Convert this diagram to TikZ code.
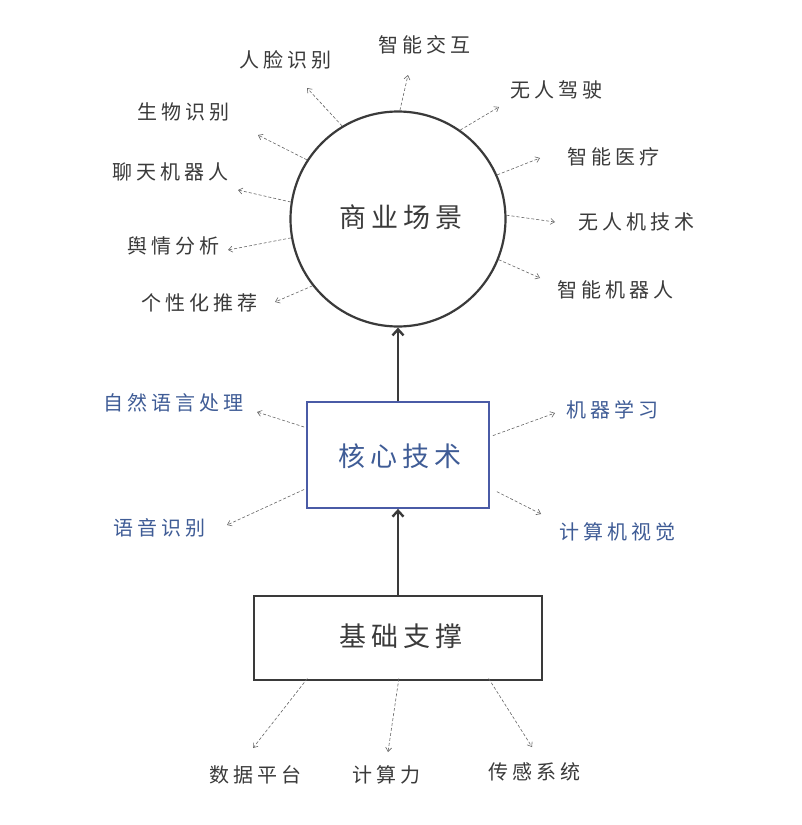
\documentclass[tikz,border=0pt]{standalone}
\usepackage{fontspec}
\usetikzlibrary{arrows.meta,calc}
\newfontfamily\cjk{Noto Sans CJK SC}[LetterSpace=20]
\newfontfamily\cjkbig{Noto Sans CJK SC}[LetterSpace=18]
\definecolor{ink}{HTML}{3A3A3A}
\definecolor{blueink}{HTML}{3F5C96}
\definecolor{bluebox}{HTML}{4A5BA6}
\definecolor{dash}{HTML}{666666}
\tikzset{
  lbl/.style={font=\cjk\fontsize{20}{20}\selectfont, text=ink, inner sep=0pt},
  blbl/.style={lbl, text=blueink},
  big/.style={font=\cjkbig\fontsize{27}{27}\selectfont, inner sep=0pt},
  darr/.style={draw=dash, line width=0.6pt, dash pattern=on 3pt off 2pt, -{Straight Barb[length=4pt,width=6pt]}},
  thick arr/.style={draw=ink, line width=2.4pt, -{Straight Barb[length=6pt,width=11pt]}}
}
\begin{document}
\begin{tikzpicture}[x=1pt,y=-1pt]
\useasboundingbox[fill=white] (0,0) rectangle (802,825);
% main shapes
\node[circle, draw=ink, line width=2.2pt, minimum size=215pt, inner sep=0pt] (c) at (398,219) {};
\node[big, text=ink] (ct) at (401,217) {商业场景};
\node[draw=bluebox, line width=1.8pt, minimum width=182pt, minimum height=106pt, inner sep=0pt] (b) at (398,455) {};
\node[big, text=blueink] (bt) at (400,456) {核心技术};
\node[draw=ink, line width=2pt, minimum width=288pt, minimum height=84pt, inner sep=0pt] (k) at (398,637.5) {};
\node[big, text=ink] (kt) at (401,636) {基础支撑};
% thick arrows
\draw[thick arr] (b.north) -- (c.south);
\draw[thick arr] (k.north) -- (b.south);
% business labels
\node[lbl] (l1) at (424,45) {智能交互};
\node[lbl] (l2) at (285,60) {人脸识别};
\node[lbl] (l3) at (183,112) {生物识别};
\node[lbl] (l4) at (170,172) {聊天机器人};
\node[lbl] (l5) at (173,246) {舆情分析};
\node[lbl] (l6) at (199,303) {个性化推荐};
\node[lbl] (r1) at (556,90) {无人驾驶};
\node[lbl] (r2) at (613,157) {智能医疗};
\node[lbl] (r3) at (636,222) {无人机技术};
\node[lbl] (r4) at (615,290) {智能机器人};
\coordinate (t1) at (408,75);
\coordinate (t2) at (307,88);
\coordinate (t3) at (258,135);
\coordinate (t4) at (238,190);
\coordinate (t5) at (228,250);
\coordinate (t6) at (275,302);
\coordinate (s1) at (499,107);
\coordinate (s2) at (540,158);
\coordinate (s3) at (555,222);
\coordinate (s4) at (540,278);
\draw[darr] (c.89) -- (t1);
\draw[darr] (c.121) -- (t2);
\draw[darr] (c.147) -- (t3);
\draw[darr] (c.171) -- (t4);
\draw[darr] (c.190) -- (t5);
\draw[darr] (c.218) -- (t6);
\draw[darr] (c.55) -- (s1);
\draw[darr] (c.24) -- (s2);
\draw[darr] (c.2) -- (s3);
\draw[darr] (c.-22) -- (s4);
% core tech labels
\node[blbl] (n1) at (173,403) {自然语言处理};
\node[blbl] (n2) at (159,528) {语音识别};
\node[blbl] (n3) at (612,410) {机器学习};
\node[blbl] (n4) at (617,532) {计算机视觉};
\coordinate (u1) at (257,412);
\coordinate (u2) at (227,525);
\coordinate (u3) at (555,413);
\coordinate (u4) at (541,514);
\draw[darr] ([xshift=-2pt]$(b.north west)!0.24!(b.south west)$) -- (u1);
\draw[darr] ([xshift=-2pt]$(b.north west)!0.82!(b.south west)$) -- (u2);
\draw[darr] ([xshift=3pt]$(b.north east)!0.32!(b.south east)$) -- (u3);
\draw[darr] ([xshift=7pt]$(b.north east)!0.84!(b.south east)$) -- (u4);
% base labels
\node[lbl] (m1) at (255,775) {数据平台};
\node[lbl] (m2) at (386,775) {计算力};
\node[lbl] (m3) at (534,772) {传感系统};
\coordinate (v1) at (253,748);
\coordinate (v2) at (388,752);
\coordinate (v3) at (532,747);
\draw[darr] ([yshift=2pt]$(k.south west)!0.1875!(k.south east)$) -- (v1);
\draw[darr] ([yshift=2pt]$(k.south west)!0.503!(k.south east)$) -- (v2);
\draw[darr] ([yshift=2pt]$(k.south west)!0.8125!(k.south east)$) -- (v3);
\end{tikzpicture}
\end{document}
